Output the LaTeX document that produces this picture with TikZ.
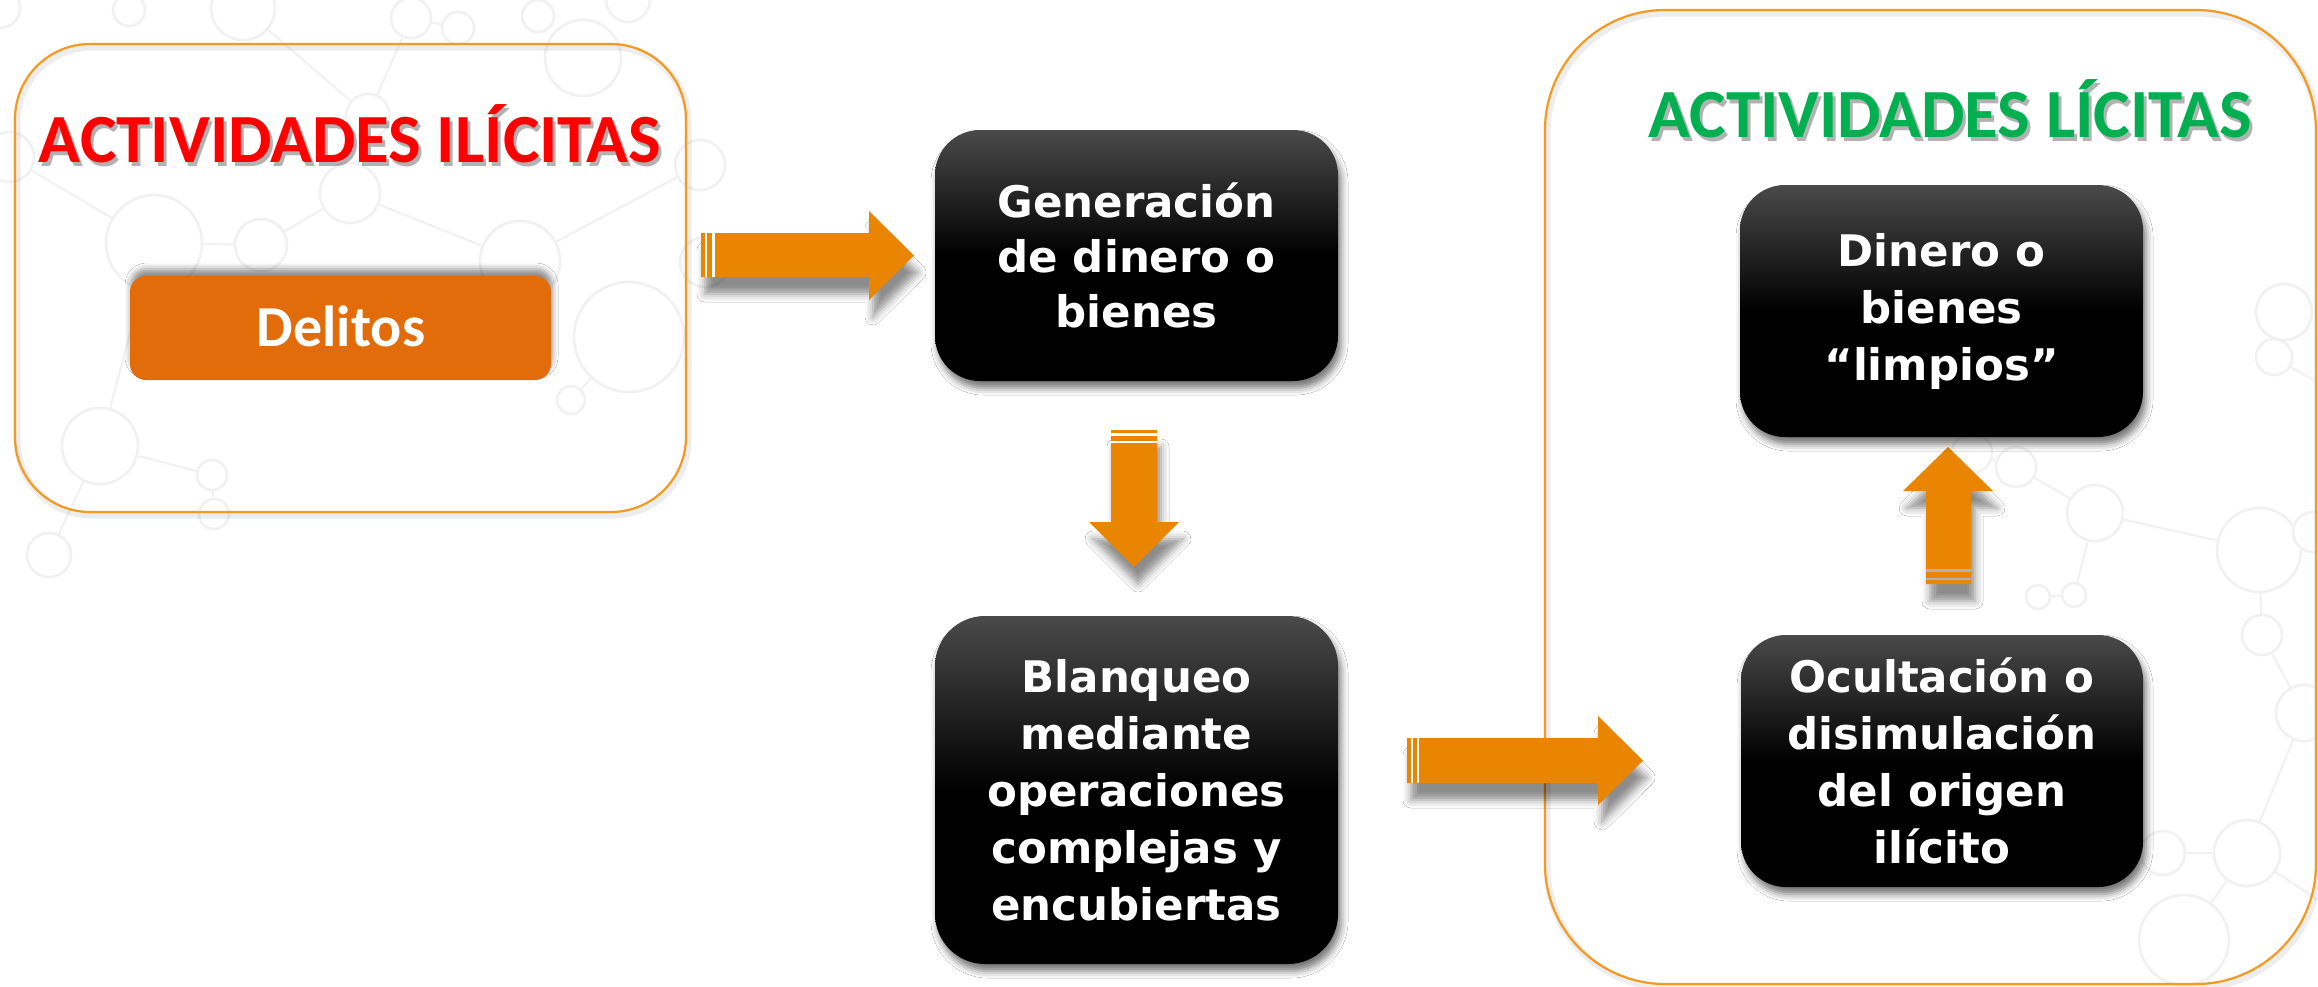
\documentclass[tikz,border=0pt]{standalone}
\usepackage{fontspec}
\newfontfamily\boxfont{DejaVu Sans}
\newfontfamily\titlefont{Carlito}
\usetikzlibrary{shadows.blur}
\definecolor{arroworange}{HTML}{EA8502}
\definecolor{delorange}{HTML}{E36C0A}
\definecolor{borderorange}{HTML}{F39A1F}
\definecolor{titlered}{HTML}{FF0000}
\definecolor{titlegreen}{HTML}{00B050}
\definecolor{patgray}{HTML}{F1F1F1}
\definecolor{boxtop}{HTML}{4A4A4A}
\begin{document}
\begin{tikzpicture}[x=1pt,y=-1pt,
  pat/.style={draw=patgray, line width=2.6pt, fill=white},
  patline/.style={draw=patgray, line width=2pt},
  container/.style={draw=borderorange, line width=2.2pt, inner sep=0pt},
  containershadow/.style={draw=black, draw opacity=0.07, line width=7pt, inner sep=0pt},
  blackbox/.style={rectangle, rounded corners=45pt, top color=boxtop, bottom color=black, middle color=black, draw=none, inner sep=0pt,
    blur shadow={shadow xshift=3pt, shadow yshift=-7pt, shadow blur radius=7pt, shadow opacity=55}},
  boxtext/.style={text=white, font=\boxfont\bfseries\fontsize{43.5}{57}\selectfont, align=center, inner sep=0pt},
  titletext/.style={font=\titlefont\bfseries\fontsize{69}{72}\selectfont, inner sep=0pt, anchor=base},
  titleshadow/.style={titletext, text=black, text opacity=0.3},
  bigarrow/.style={fill=arroworange, draw=none,
    blur shadow={shadow xshift=4pt, shadow yshift=-17pt, shadow blur radius=8pt, shadow opacity=45}},
  gap/.style={fill=white, draw=none},
  graygap/.style={fill=black!30, draw=none}
]
\useasboundingbox (0,0) rectangle (2318,986);
\fill[white] (0,0) rectangle (2318,986);

% faint background pattern
\foreach \ax/\ay/\bx/\by in {243/8/368/116, 368/116/411/18, 154/243/9/157, 261/245/350/193, 154/243/261/245,
  350/193/520/261, 520/261/700/165, 100/446/154/243, 100/446/212/475, 212/475/214/514, 100/446/49/555,
  629/337/571/400, 411/18/458/28,
  2095/513/2259/550, 2095/513/2074/595, 2038/597/2074/595, 2259/550/2262/635, 2262/635/2304/713,
  2304/713/2247/853, 2163/853/2247/853, 2247/853/2318/900, 2284/312/2274/357, 2274/357/2318/383,
  2016/467/2095/513, 1972/453/2016/467, 2184/940/2247/853}
  \draw[patline] (\ax,\ay) -- (\bx,\by);
\foreach \cx/\cy/\r in {243/8/32, 129/10/16, 411/18/20, 458/28/16, 538/16/16, 583/58/38, 628/0/22,
  368/116/22, 350/193/30, 154/243/48, 261/245/26, 520/261/40, 629/337/55, 571/400/14, 100/446/38,
  212/475/15, 214/514/15, 49/555/22, 9/157/25, 0/8/20, 700/165/25, 705/262/25,
  2095/513/28, 2259/550/42, 2038/597/12, 2074/595/12, 2262/635/20, 2304/713/28, 2163/853/22,
  2247/853/33, 2184/940/45, 2284/312/28, 2274/357/18, 1972/453/20, 2016/467/20, 2313/532/20}
  \draw[pat] (\cx,\cy) circle[radius=\r pt];

% containers
\node[containershadow, rounded corners=75pt, minimum width=671pt, minimum height=468pt] (ilicsh) at (352.5,281) {};
\node[container, rounded corners=75pt, minimum width=671pt, minimum height=468pt] (ilic) at (350.5,278) {};
\node[containershadow, rounded corners=120pt, minimum width=771pt, minimum height=974pt] (licsh) at (1932.5,500) {};
\node[container, rounded corners=120pt, minimum width=771pt, minimum height=974pt] (lic) at (1930.5,497) {};

% titles
\node[titleshadow] (redsh) at (353,166) {ACTIVIDADES ILÍCITAS};
\node[titletext, text=titlered] (redtitle) at (350,162) {ACTIVIDADES ILÍCITAS};
\node[titleshadow] (greensh) at (1953,141) {ACTIVIDADES LÍCITAS};
\node[titletext, text=titlegreen] (greentitle) at (1950,137) {ACTIVIDADES LÍCITAS};

% Delitos
\node[fill=delorange, rounded corners=16pt, minimum width=421pt, minimum height=104pt, inner sep=0pt,
  blur shadow={shadow xshift=1pt, shadow yshift=7pt, shadow blur radius=6pt, shadow opacity=45}] (del) at (340.5,328) {};
\node[titletext, text=white, font=\titlefont\bfseries\fontsize{58}{60}\selectfont] (delt) at (341,346) {Delitos};

% big arrows
\fill[bigarrow] (701,233) -- (869,233) -- (869,211) -- (914,255.5) -- (869,300) -- (869,277) -- (701,277) -- cycle;
\fill[gap] (705,233) rectangle (707,277);
\fill[gap] (712,233) rectangle (715,277);

\fill[bigarrow] (1111,430) -- (1157,430) -- (1157,522) -- (1179,522) -- (1134,567) -- (1089,522) -- (1111,522) -- cycle;
\fill[gap] (1111,433) rectangle (1157,436);
\fill[gap] (1111,441) rectangle (1157,443);

\fill[bigarrow] (1407,738) -- (1598,738) -- (1598,716) -- (1643,760.5) -- (1598,805) -- (1598,783) -- (1407,783) -- cycle;
\fill[gap] (1411,738) rectangle (1413,783);
\fill[gap] (1417,738) rectangle (1419,783);

\fill[bigarrow] (1926,584) -- (1926,491) -- (1903,491) -- (1948,447) -- (1993,491) -- (1971,491) -- (1971,584) -- cycle;
\fill[graygap] (1926,569) rectangle (1971,572);
\fill[graygap] (1926,578) rectangle (1971,580);

% black boxes
\node[blackbox, minimum width=403pt, minimum height=251pt] (gen) at (1136.5,255.5) {};
\node[blackbox, rounded corners=50pt, minimum width=403pt, minimum height=348pt] (blan) at (1136.5,790) {};
\node[blackbox, minimum width=403pt, minimum height=252pt] (din) at (1941.5,311) {};
\node[blackbox, minimum width=402pt, minimum height=252pt] (ocu) at (1942,761) {};

\node[boxtext, font=\boxfont\bfseries\fontsize{43.5}{55}\selectfont] (gent) at (gen.center) {Generación\\de dinero o\\bienes};
\node[boxtext] (blant) at (blan.center) {Blanqueo\\mediante\\operaciones\\complejas y\\encubiertas};
\node[boxtext] (dint) at (din.center) {Dinero o\\bienes\\“limpios”};
\node[boxtext] (ocut) at (ocu.center) {Ocultación o\\disimulación\\del origen\\ilícito};
\end{tikzpicture}
\end{document}
